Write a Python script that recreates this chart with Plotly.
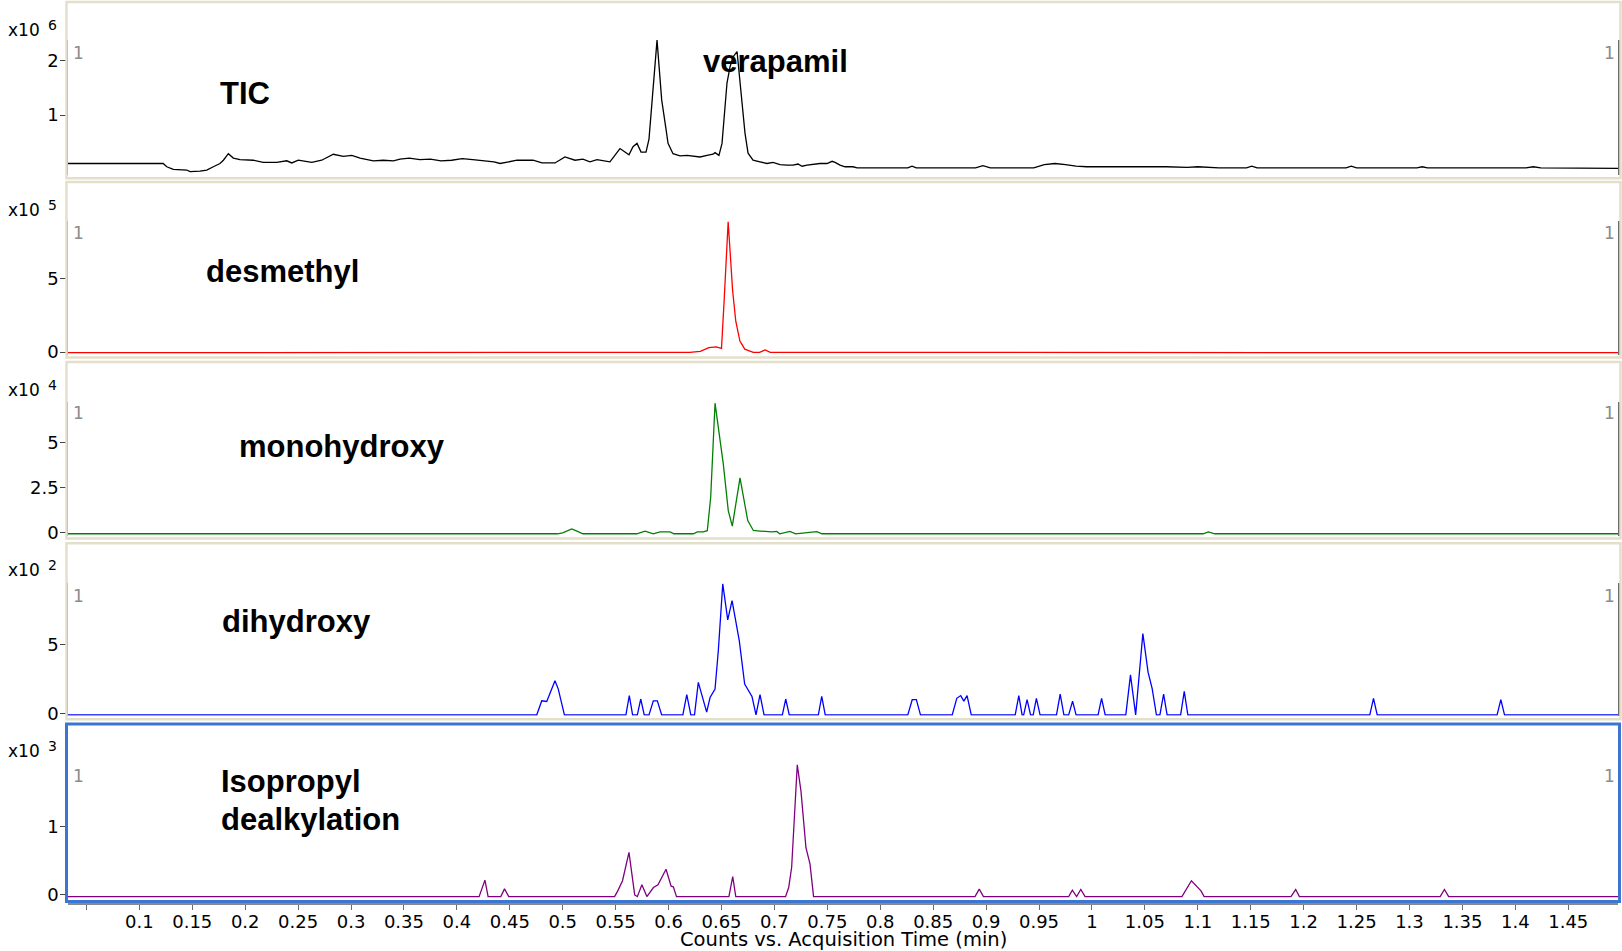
import plotly.graph_objects as go

W = 1622
H = 960                 # figure height in px
SQUEEZE = 951.0 / 960   # the photographed page is compressed vertically by this factor

# ---------------- data (values in the units of each panel's multiplier) ----------------
tic_time = [0.0326, 0.060, 0.075, 0.0846, 0.088, 0.092, 0.0978, 0.1225, 0.1259, 0.1321, 0.1448, 0.1479,
            0.1573, 0.1637, 0.1699, 0.1762, 0.1794, 0.1841, 0.1888, 0.1951, 0.2077, 0.2171, 0.2298,
            0.2393, 0.244, 0.2502, 0.2629, 0.2723, 0.2833, 0.2927, 0.3007, 0.3085, 0.3211, 0.3305,
            0.34, 0.3463, 0.355, 0.365, 0.375, 0.385, 0.395, 0.405, 0.415, 0.425, 0.435, 0.4408,
            0.4568, 0.4719, 0.4804, 0.4927, 0.5021, 0.5116, 0.5191, 0.5257, 0.5324, 0.5446, 0.5541,
            0.5626, 0.5664, 0.5702, 0.574, 0.5787, 0.5815, 0.5891, 0.5935, 0.5973, 0.5995, 0.6042,
            0.6108, 0.6174, 0.6231, 0.6297, 0.6363, 0.642, 0.6439, 0.6476, 0.6505, 0.6552, 0.6581,
            0.6609, 0.6647, 0.6675, 0.6722, 0.6751, 0.6798, 0.6864, 0.693, 0.6987, 0.7053, 0.7119,
            0.7176, 0.7223, 0.7261, 0.7308, 0.7365, 0.7431, 0.7497, 0.7545, 0.7573, 0.762, 0.7667,
            0.7743, 0.7781, 0.82, 0.826, 0.83, 0.834, 0.89, 0.897, 0.904, 0.945, 0.955, 0.965, 0.975,
            0.985, 0.995, 1.03, 1.05, 1.07, 1.09, 1.1, 1.12, 1.146, 1.151, 1.156, 1.24, 1.245, 1.25,
            1.307, 1.312, 1.317, 1.41, 1.417, 1.424, 1.497]
tic_x1e6 = [0.11, 0.11, 0.11, 0.10, 0.11, 0.10, 0.11, 0.11, 0.05, 0.00, -0.01, -0.04,
            -0.03, -0.01, 0.05, 0.11, 0.17, 0.29, 0.21, 0.18, 0.17, 0.13, 0.13,
            0.16, 0.12, 0.17, 0.13, 0.17, 0.28, 0.24, 0.26, 0.21, 0.16, 0.17,
            0.16, 0.19, 0.21, 0.18, 0.19, 0.16, 0.17, 0.20, 0.18, 0.16, 0.14, 0.11,
            0.17, 0.17, 0.12, 0.12, 0.23, 0.17, 0.19, 0.14, 0.18, 0.14, 0.385,
            0.27, 0.42, 0.48, 0.32, 0.32, 0.56, 2.38, 1.28, 0.78, 0.48, 0.29,
            0.25, 0.26, 0.245, 0.23, 0.26, 0.28, 0.31, 0.26, 0.48, 1.59, 1.89,
            2.07, 2.17, 1.59, 0.67, 0.30, 0.17, 0.14, 0.11, 0.13, 0.09, 0.08,
            0.08, 0.10, 0.06, 0.08, 0.10, 0.11, 0.11, 0.15, 0.13, 0.08, 0.05,
            0.05, 0.03, 0.03, 0.03, 0.06, 0.03, 0.03, 0.07, 0.03, 0.03, 0.09, 0.11, 0.09,
            0.06, 0.05, 0.05, 0.06, 0.05, 0.04, 0.05, 0.03, 0.03, 0.06, 0.03, 0.03, 0.06, 0.03,
            0.03, 0.05, 0.03, 0.03, 0.05, 0.03, 0.02]

desmethyl_time = [0.0326, 0.60, 0.62, 0.63, 0.638, 0.645, 0.650, 0.6525, 0.6563, 0.6605, 0.6635,
                  0.6674, 0.672, 0.68, 0.686, 0.6914, 0.696, 1.497]
desmethyl_x1e5 = [-0.04, -0.04, -0.02, 0.05, 0.30, 0.35, 0.25, 3.5, 8.87, 4.2, 2.1,
                  0.75, 0.2, -0.02, -0.02, 0.15, -0.02, -0.04]

monohydroxy_time = [0.0326, 0.495, 0.500, 0.503, 0.5085, 0.514, 0.519, 0.57, 0.5778, 0.5856, 0.5919,
                    0.6014, 0.6051, 0.6234, 0.6272, 0.6328, 0.6366, 0.6398, 0.6439, 0.6517, 0.6564,
                    0.6602, 0.6675, 0.6748, 0.6801, 0.6864, 0.6975, 0.7022, 0.705, 0.7147, 0.72,
                    0.74, 0.745, 1.105, 1.11, 1.116, 1.497]
monohydroxy_x1e4 = [-0.05, -0.05, 0.0, 0.08, 0.22, 0.08, -0.05, -0.05, 0.09, -0.05, 0.05,
                    0.05, -0.05, -0.05, 0.05, 0.05, 0.12, 1.96, 7.15, 3.8, 1.23,
                    0.37, 3.03, 0.68, 0.13, 0.1, 0.05, 0.08, -0.05, 0.08, -0.05,
                    0.07, -0.05, -0.05, 0.05, -0.05, -0.05]

dihydroxy_time = [0.0326, 0.4755, 0.4802, 0.4849, 0.4927, 0.4958, 0.5016,
                  0.5597, 0.5629, 0.566, 0.5705, 0.5737, 0.577, 0.5815, 0.5856, 0.5894, 0.5935,
                  0.6135, 0.6172, 0.621, 0.6245, 0.6281, 0.636, 0.6392, 0.6439, 0.647, 0.6512,
                  0.6559, 0.66, 0.6637, 0.6668, 0.6719, 0.6788, 0.6826, 0.6864, 0.6902,
                  0.7075, 0.7107, 0.714, 0.7415, 0.7447, 0.748,
                  0.826, 0.8302, 0.8341, 0.838, 0.868, 0.8723, 0.876, 0.879, 0.882, 0.886,
                  0.9275, 0.9309, 0.934, 0.9355, 0.9387, 0.942, 0.9445, 0.9475, 0.951,
                  0.9665, 0.97, 0.9735, 0.978, 0.9817, 0.985, 1.0058, 1.0091, 1.0125,
                  1.032, 1.0364, 1.0413, 1.0481, 1.053, 1.0569, 1.0609, 1.0642, 1.0677, 1.071,
                  1.0838, 1.0872, 1.0906, 1.2625, 1.266, 1.2695, 1.3828, 1.3863, 1.3898, 1.497]
dihydroxy_x1e2 = [-0.1, -0.1, 0.92, 0.87, 2.38, 1.77, -0.1,
                  -0.1, 1.29, -0.1, -0.1, 1.05, -0.1, -0.1, 0.92, 0.92, -0.1,
                  -0.1, 1.36, -0.1, -0.1, 2.26, 0.1, 1.16, 1.77, 4.56, 9.42,
                  6.8, 8.2, 6.5, 5.29, 2.14, 1.24, -0.1, 1.36, -0.1,
                  -0.1, 1.05, -0.1, -0.1, 1.24, -0.1,
                  -0.1, 1.0, 1.0, -0.1, -0.1, 1.1, 1.3, 0.9, 1.3, -0.1,
                  -0.1, 1.3, -0.1, -0.1, 1.0, -0.1, -0.1, 1.1, -0.1,
                  -0.1, 1.4, -0.1, -0.1, 0.9, -0.1, -0.1, 1.1, -0.1,
                  -0.1, 2.8, -0.1, 5.8, 3.0, 1.8, -0.1, -0.1, 1.4, -0.1,
                  -0.1, 1.6, -0.1, -0.1, 1.1, -0.1, -0.1, 1.0, -0.1, -0.1]

isopropyl_time = [0.0326, 0.421, 0.4265, 0.4295, 0.4415, 0.445, 0.449, 0.549, 0.552, 0.5565, 0.5626,
                  0.5658, 0.568, 0.5705, 0.5748, 0.5795, 0.5857, 0.59, 0.5976, 0.6024, 0.6045,
                  0.6075, 0.657, 0.6606, 0.6635, 0.7105, 0.7135, 0.7163, 0.7216, 0.7251, 0.7298,
                  0.7336, 0.737, 0.8895, 0.8935, 0.8975, 0.978, 0.9815, 0.9855, 0.9895, 0.9935,
                  1.085, 1.094, 1.103, 1.106, 1.188, 1.1925, 1.196, 1.329, 1.333, 1.337, 1.497]
isopropyl_x1e3 = [-0.035, -0.035, 0.21, -0.035, -0.035, 0.08, -0.035, -0.035, 0.05, 0.2, 0.62,
                  0.2, -0.01, -0.035, 0.14, -0.035, 0.1, 0.14, 0.37, 0.12, 0.11,
                  -0.035, -0.035, 0.26, -0.035, -0.035, 0.1, 0.40, 1.92, 1.53, 0.69,
                  0.45, -0.035, -0.035, 0.075, -0.035, -0.035, 0.06, -0.035, 0.07, -0.035,
                  -0.035, 0.2, 0.05, -0.035, -0.035, 0.07, -0.035, -0.035, 0.07, -0.035, -0.035]

x_tick_vals = [0.05 * i for i in range(1, 30)]
x_tick_text = [""] + ["%g" % round(0.05 * i, 2) for i in range(2, 30)]

panel_exponents = ["6", "5", "4", "2", "3"]

# ---------------- figure ----------------
def fx(X):
    return X / W

def fy(Y):
    # Y = target pixel row in the 1622x951 picture
    return 1 - (Y / SQUEEZE) / H

series = [
    (tic_time, tic_x1e6, "black"),
    (desmethyl_time, desmethyl_x1e5, "#ff0000"),
    (monohydroxy_time, monohydroxy_x1e4, "#008000"),
    (dihydroxy_time, dihydroxy_x1e2, "#0000ff"),
    (isopropyl_time, isopropyl_x1e3, "#800080"),
]

axis_px = [(40, 175), (220.7, 355), (401.7, 535), (582.7, 715), (763.3, 898.3)]
y_ranges = [(-0.105, 2.381), (-0.225, 8.92), (-0.149, 7.21), (-0.167, 9.46), (-0.074, 1.93)]
y_ticks = [[1, 2], [0, 5], [0, 2.5, 5], [0, 5], [0, 1]]
frames = [(2, 178), (181.7, 357), (361.7, 538), (542.7, 718.5), (723.3, 900.5)]
mult_y = [29.5, 209.5, 389.5, 569.5, 750]
one_y = [52.5, 233, 413, 595, 775]

fig = go.Figure()
for i, (t, v, c) in enumerate(series):
    fig.add_trace(go.Scatter(x=t, y=v, mode="lines", line=dict(color=c, width=1.3),
                             xaxis="x", yaxis="y" if i == 0 else "y%d" % (i + 1),
                             showlegend=False, hoverinfo="skip"))

tickfont = dict(family="DejaVu Sans", size=18, color="black")
layout = dict(
    width=W, height=H, margin=dict(l=0, r=0, t=0, b=0),
    paper_bgcolor="white", plot_bgcolor="white", showlegend=False,
    xaxis=dict(domain=[fx(68), fx(1618)], range=[0.0326, 1.497], anchor="free",
               position=fy(902.7), showline=True, linecolor="#8a8a8a", linewidth=2,
               ticks="outside", ticklen=5, tickcolor="#6a6a6a", tickwidth=1.2,
               ticklabelstandoff=-3,
               tickvals=x_tick_vals, ticktext=x_tick_text, tickfont=tickfont,
               showgrid=False, zeroline=False),
)
shapes = []
annotations = []
for i in range(5):
    key = "yaxis" if i == 0 else "yaxis%d" % (i + 1)
    top, bot = axis_px[i]
    layout[key] = dict(domain=[fy(bot), fy(top)], range=list(y_ranges[i]), anchor="x",
                       showline=True, linecolor="#6e6e6e", linewidth=1.5, mirror=True,
                       ticks="outside", ticklen=6, tickcolor="#444", tickwidth=1.2,
                       ticklabelstandoff=-2,
                       tickvals=y_ticks[i], ticktext=["%g" % v for v in y_ticks[i]],
                       tickfont=tickfont, showgrid=False, zeroline=False)
    ft, fb = frames[i]
    if i < 4:
        shapes.append(dict(type="rect", xref="paper", yref="paper", x0=fx(66.5), x1=fx(1620.5),
                           y0=fy(fb), y1=fy(ft), line=dict(color="#e4dfca", width=2.5)))
    else:
        shapes.append(dict(type="rect", xref="paper", yref="paper", x0=fx(66.5), x1=fx(1619.5),
                           y0=fy(fb), y1=fy(ft), line=dict(color="#3a76d2", width=3)))
    annotations.append(dict(text="x10", x=fx(6), y=fy(mult_y[i]), xref="paper", yref="paper",
                            xanchor="left", yanchor="middle", showarrow=False,
                            font=dict(family="DejaVu Sans", size=17, color="black")))
    annotations.append(dict(text=panel_exponents[i], x=fx(46), y=fy(mult_y[i] - 5), xref="paper",
                            yref="paper", xanchor="left", yanchor="middle", showarrow=False,
                            font=dict(family="DejaVu Sans", size=14, color="black")))
    for gx in (78, 1609):
        annotations.append(dict(text="1", x=fx(gx), y=fy(one_y[i]), xref="paper", yref="paper",
                                xanchor="center", yanchor="middle", showarrow=False,
                                font=dict(family="DejaVu Sans", size=17, color="#8c8c8c")))

labels = [("TIC", 245, 93, "center"), ("verapamil", 775, 61, "center"),
          ("desmethyl", 282, 271, "center"), ("monohydroxy", 341.5, 446, "center"),
          ("dihydroxy", 296, 621, "center"), ("Isopropyl", 219, 781, "left"),
          ("dealkylation", 219, 819, "left")]
for txt, lx, ly, anc in labels:
    annotations.append(dict(text="<b>%s</b>" % txt, x=fx(lx), y=fy(ly), xref="paper", yref="paper",
                            xanchor=anc, yanchor="middle", showarrow=False,
                            font=dict(family="Liberation Sans", size=31, color="black")))

annotations.append(dict(text="Counts vs. Acquisition Time (min)", x=fx(843), y=fy(938.5),
                        xref="paper", yref="paper", xanchor="center", yanchor="middle",
                        showarrow=False, font=dict(family="DejaVu Sans", size=19.5, color="black")))

layout["shapes"] = shapes
layout["annotations"] = annotations
fig.update_layout(**layout)

fig.write_html("out.html", config={"displayModeBar": False},
               post_script="document.body.style.margin='0';document.body.style.overflow='hidden';")
